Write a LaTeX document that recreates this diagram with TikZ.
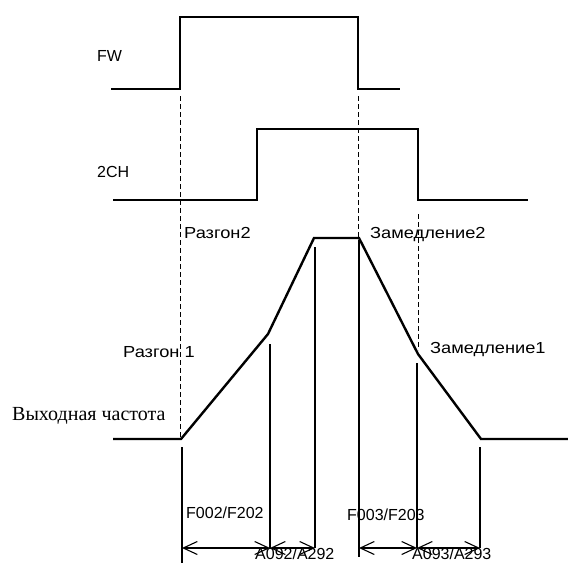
\documentclass[tikz,border=0pt]{standalone}
\usepackage{fontspec}
\setmainfont{Liberation Sans}
\newfontfamily\cyrsans[FakeStretch=1.14]{Liberation Sans}
\newfontfamily\cyrserif{Liberation Serif}
\usetikzlibrary{arrows.meta}
\begin{document}
\begin{tikzpicture}[x=1pt,y=-1pt,
  sig/.style={line width=2.4pt,line join=miter},
  guide/.style={line width=1pt,dash pattern=on 5pt off 3pt},
  tick/.style={line width=1.2pt},
  dim/.style={line width=1.2pt,{Straight Barb[length=14pt,width=13pt,line width=1.1pt]}-{Straight Barb[length=14pt,width=13pt,line width=1.1pt]}},
  lat/.style={font=\fontsize{16}{18}\selectfont,inner sep=0pt,anchor=base west},
  cyr/.style={font=\cyrsans\fontsize{16}{18}\selectfont,inner sep=0pt,anchor=base west}]
\useasboundingbox (0,0) rectangle (568,563);
% FW signal
\coordinate (fw0) at (111,89); \coordinate (fw1) at (180,89); \coordinate (fw2) at (180,17);
\coordinate (fw3) at (358,17); \coordinate (fw4) at (358,89); \coordinate (fw5) at (400,89);
\draw[sig] (fw0) -- (fw1) -- (fw2) -- (fw3) -- (fw4) -- (fw5);
% 2CH signal
\coordinate (ch0) at (113,200); \coordinate (ch1) at (257,200); \coordinate (ch2) at (257,129);
\coordinate (ch3) at (418,129); \coordinate (ch4) at (418,200); \coordinate (ch5) at (528,200);
\draw[sig] (ch0) -- (ch1) -- (ch2) -- (ch3) -- (ch4) -- (ch5);
% output frequency
\coordinate (f0) at (113,439); \coordinate (f1) at (181,439); \coordinate (f2) at (268,334);
\coordinate (f3) at (314,238); \coordinate (f4) at (359,238); \coordinate (f5) at (418,354);
\coordinate (f6) at (481,439); \coordinate (f7) at (568,439);
\draw[sig] (f0) -- (f1) -- (f2) -- (f3) -- (f4) -- (f5) -- (f6) -- (f7);
% dashed guides
\coordinate (g1a) at (180,96); \coordinate (g1b) at (180,439);
\coordinate (g2a) at (358,96); \coordinate (g2b) at (358,238);
\coordinate (g3a) at (418,214); \coordinate (g3b) at (418,350);
\draw[guide] (g1a) -- (g1b);
\draw[guide] (g2a) -- (g2b);
\draw[guide] (g3a) -- (g3b);
% solid verticals
\coordinate (v1a) at (182,447); \coordinate (v1b) at (182,563);
\coordinate (v2a) at (270,344); \coordinate (v2b) at (270,548);
\coordinate (v3a) at (315,247); \coordinate (v3b) at (315,548);
\coordinate (v4a) at (359,240); \coordinate (v4b) at (359,557);
\coordinate (v5a) at (417,363); \coordinate (v5b) at (417,548);
\coordinate (v6a) at (480,447); \coordinate (v6b) at (480,548);
\foreach \v in {1,...,6} {\draw[tick] (v\v a) -- (v\v b);}
% dimension arrows
\coordinate (d1) at (182,548); \coordinate (d2) at (270,548); \coordinate (d3) at (315,548);
\coordinate (d4) at (359,548); \coordinate (d5) at (417,548); \coordinate (d6) at (480,548);
\draw[dim] (d1) -- (d2);
\draw[dim] (d2) -- (d3);
\draw[dim] (d4) -- (d5);
\draw[dim] (d5) -- (d6);
% labels
\node[lat] (lfw) at (97,61) {FW};
\node[lat] (lch) at (97,177) {2CH};
\node[cyr] (lr2) at (184,238) {Разгон2};
\node[cyr] (lz2) at (370,238) {Замедление2};
\node[cyr] (lr1) at (123,357) {Разгон 1};
\node[cyr] (lz1) at (430,353) {Замедление1};
\node[font=\cyrserif\fontsize{20}{22}\selectfont,inner sep=0pt,anchor=base west] (lout) at (12,420) {Выходная частота};
\node[lat] (lf2) at (186,518) {F002/F202};
\node[lat] (lf3) at (347,520) {F003/F203};
\node[lat] (la2) at (255,559) {A092/A292};
\node[lat] (la3) at (412,559) {A093/A293};
\end{tikzpicture}
\end{document}
